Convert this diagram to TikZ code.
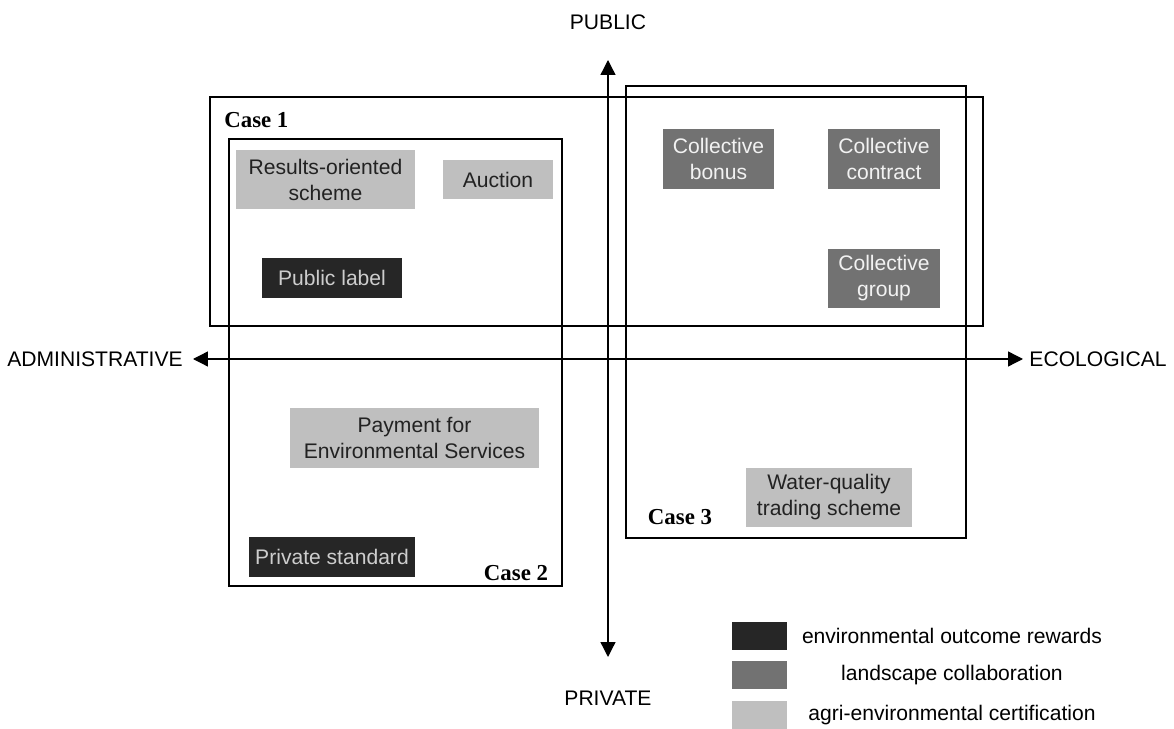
\documentclass[tikz,border=0pt]{standalone}
\usepackage{fontspec}
\setmainfont{Liberation Sans}
\newfontfamily\casefont{Liberation Serif}
\usepackage{tikz}
\usetikzlibrary{arrows.meta}
\definecolor{egdark}{RGB}{38,38,38}
\definecolor{egmid}{RGB}{114,114,114}
\definecolor{eglight}{RGB}{191,191,191}
\definecolor{egdarktext}{RGB}{205,205,205}
\definecolor{egmidtext}{RGB}{242,242,242}
\definecolor{eglighttext}{RGB}{34,34,34}

\begin{document}
\begin{tikzpicture}[
  x=0.02cm, y=-0.02cm,
  scheme/.style={rectangle, inner sep=0pt, align=center, font=\fontsize{12}{14.8}\selectfont},
  outcome/.style={scheme, fill=egdark, text=egdarktext},
  collab/.style={scheme, fill=egmid, text=egmidtext},
  certif/.style={scheme, fill=eglight, text=eglighttext},
  casebox/.style={draw=black, line width=1.4pt},
  caselabel/.style={font=\casefont\bfseries\fontsize{13}{15}\selectfont, inner sep=0pt},
  axislabel/.style={font=\fontsize{12}{14}\selectfont, inner sep=0pt},
  legendbox/.style={rectangle, inner sep=0pt, minimum width=1.1cm, minimum height=0.56cm},
  axis/.style={{Triangle[length=0.3cm,width=0.3cm]}-{Triangle[length=0.3cm,width=0.3cm]}, line width=0.75pt}
]
\useasboundingbox (0,0) rectangle (1174,729);

% Axes
\coordinate (pub) at (608,60);
\coordinate (priv) at (608,657);
\coordinate (adm) at (193,359);
\coordinate (eco) at (1023,359);
\draw[axis] (priv) -- (pub);
\draw[axis] (adm) -- (eco);
\node[axislabel] (lpub) at (608,22) {PUBLIC};
\node[axislabel] (lpriv) at (608,698) {PRIVATE};
\node[axislabel] (ladm) at (95,359) {ADMINISTRATIVE};
\node[axislabel] (leco) at (1098,359) {ECOLOGICAL};

% Cases
\draw[casebox] (210,97) rectangle (983,326);
\draw[casebox] (229,139) rectangle (562,586);
\draw[casebox] (626,86) rectangle (966,538);
\node[caselabel, anchor=west] (c1) at (224,120) {Case 1};
\node[caselabel] (c2) at (516,573) {Case 2};
\node[caselabel] (c3) at (680,517) {Case 3};

% Schemes
\node[certif, minimum width=3.58cm, minimum height=1.2cm] (ros) at (325.5,179.5) {Results-oriented\\scheme};
\node[certif, minimum width=2.2cm, minimum height=0.78cm] (auc) at (498,179.5) {Auction};
\node[outcome, minimum width=2.8cm, minimum height=0.8cm] (pl) at (332,278) {Public label};
\node[collab, minimum width=2.22cm, minimum height=1.2cm] (cb) at (718.5,159) {Collective\\bonus};
\node[collab, minimum width=2.24cm, minimum height=1.2cm] (cc) at (884,159) {Collective\\contract};
\node[collab, minimum width=2.24cm, minimum height=1.18cm] (cg) at (884,278.5) {Collective\\group};
\node[certif, minimum width=4.98cm, minimum height=1.2cm] (pes) at (414.5,438) {Payment for\\Environmental Services};
\node[outcome, minimum width=3.32cm, minimum height=0.8cm] (ps) at (332,557) {Private standard};
\node[certif, minimum width=3.32cm, minimum height=1.18cm] (wq) at (829,497.5) {Water-quality\\trading scheme};

% Legend
\node[legendbox, fill=egdark] (k1) at (759.5,636) {};
\node[legendbox, fill=egmid] (k2) at (759.5,675) {};
\node[legendbox, fill=eglight] (k3) at (759.5,715) {};
\node[axislabel] (t1) at (952,636) {environmental outcome rewards};
\node[axislabel] (t2) at (952,675) {landscape collaboration};
\node[axislabel] (t3) at (952,715) {agri-environmental certification};

\end{tikzpicture}
\end{document}
